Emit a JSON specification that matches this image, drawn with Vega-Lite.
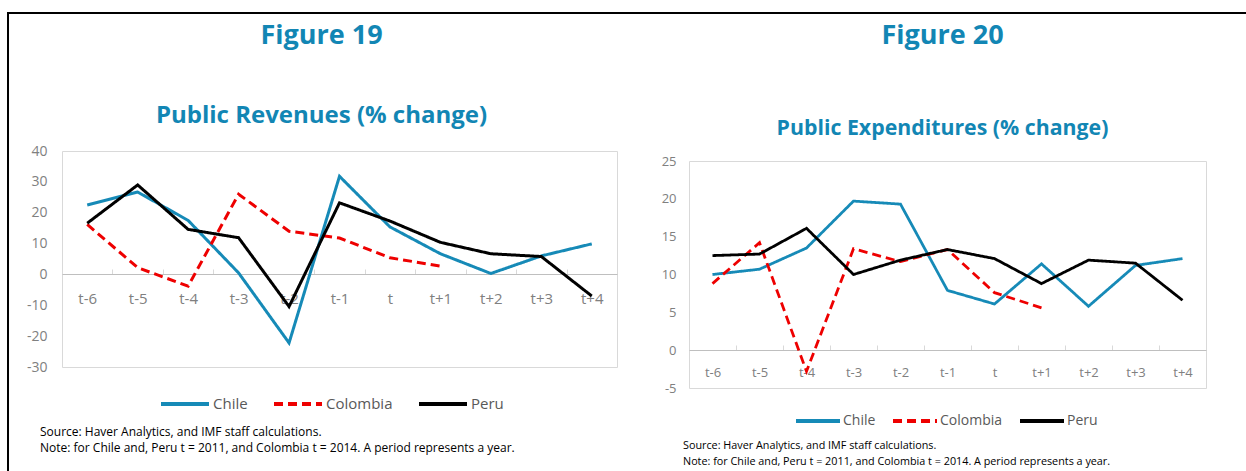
{
  "$schema": "https://vega.github.io/schema/vega-lite/v6.json",
  "background": "white",
  "padding": {"left": 7, "top": 6, "right": 0, "bottom": 0},
  "datasets": {
    "rev": [
      {"period": "t-6", "country": "Chile", "value": 22.5},
      {"period": "t-5", "country": "Chile", "value": 26.7},
      {"period": "t-4", "country": "Chile", "value": 17.5},
      {"period": "t-3", "country": "Chile", "value": 0.5},
      {"period": "t-2", "country": "Chile", "value": -22.2},
      {"period": "t-1", "country": "Chile", "value": 31.8},
      {"period": "t", "country": "Chile", "value": 15.4},
      {"period": "t+1", "country": "Chile", "value": 6.7},
      {"period": "t+2", "country": "Chile", "value": 0.3},
      {"period": "t+3", "country": "Chile", "value": 6.0},
      {"period": "t+4", "country": "Chile", "value": 9.9},
      {"period": "t-6", "country": "Colombia", "value": 16.2},
      {"period": "t-5", "country": "Colombia", "value": 2.2},
      {"period": "t-4", "country": "Colombia", "value": -3.8},
      {"period": "t-3", "country": "Colombia", "value": 26.0},
      {"period": "t-2", "country": "Colombia", "value": 14.0},
      {"period": "t-1", "country": "Colombia", "value": 11.8},
      {"period": "t", "country": "Colombia", "value": 5.4},
      {"period": "t+1", "country": "Colombia", "value": 2.7},
      {"period": "t-6", "country": "Peru", "value": 16.6},
      {"period": "t-5", "country": "Peru", "value": 29.0},
      {"period": "t-4", "country": "Peru", "value": 14.6},
      {"period": "t-3", "country": "Peru", "value": 11.9},
      {"period": "t-2", "country": "Peru", "value": -10.4},
      {"period": "t-1", "country": "Peru", "value": 23.2},
      {"period": "t", "country": "Peru", "value": 17.3},
      {"period": "t+1", "country": "Peru", "value": 10.4},
      {"period": "t+2", "country": "Peru", "value": 6.7},
      {"period": "t+3", "country": "Peru", "value": 5.8},
      {"period": "t+4", "country": "Peru", "value": -7.0}
    ],
    "exp": [
      {"period": "t-6", "country": "Chile", "value": 10.0},
      {"period": "t-5", "country": "Chile", "value": 10.7},
      {"period": "t-4", "country": "Chile", "value": 13.5},
      {"period": "t-3", "country": "Chile", "value": 19.7},
      {"period": "t-2", "country": "Chile", "value": 19.3},
      {"period": "t-1", "country": "Chile", "value": 7.9},
      {"period": "t", "country": "Chile", "value": 6.1},
      {"period": "t+1", "country": "Chile", "value": 11.4},
      {"period": "t+2", "country": "Chile", "value": 5.8},
      {"period": "t+3", "country": "Chile", "value": 11.2},
      {"period": "t+4", "country": "Chile", "value": 12.1},
      {"period": "t-6", "country": "Colombia", "value": 8.8},
      {"period": "t-5", "country": "Colombia", "value": 14.2},
      {"period": "t-4", "country": "Colombia", "value": -2.8},
      {"period": "t-3", "country": "Colombia", "value": 13.4},
      {"period": "t-2", "country": "Colombia", "value": 11.7},
      {"period": "t-1", "country": "Colombia", "value": 13.3},
      {"period": "t", "country": "Colombia", "value": 7.6},
      {"period": "t+1", "country": "Colombia", "value": 5.6},
      {"period": "t-6", "country": "Peru", "value": 12.5},
      {"period": "t-5", "country": "Peru", "value": 12.7},
      {"period": "t-4", "country": "Peru", "value": 16.1},
      {"period": "t-3", "country": "Peru", "value": 10.0},
      {"period": "t-2", "country": "Peru", "value": 11.9},
      {"period": "t-1", "country": "Peru", "value": 13.3},
      {"period": "t", "country": "Peru", "value": 12.1},
      {"period": "t+1", "country": "Peru", "value": 8.8},
      {"period": "t+2", "country": "Peru", "value": 11.9},
      {"period": "t+3", "country": "Peru", "value": 11.5},
      {"period": "t+4", "country": "Peru", "value": 6.6}
    ],
    "empty": []
  },
  "config": {
    "font": "Open Sans",
    "view": {"stroke": null}
  },
  "concat": [
    {
      "width": 0.01,
      "height": 458,
      "data": {"name": "empty"},
      "mark": "point",
      "view": {"stroke": "black", "strokeWidth": 2}
    },
    {
      "concat": [
        {
          "width": 1236,
          "height": 0.01,
          "data": {"name": "empty"},
          "mark": "point",
          "view": {"stroke": "black", "strokeWidth": 2}
        },
        {
          "concat": [
            {
              "width": 15,
              "height": 0.01,
              "data": {"name": "empty"},
              "mark": "point",
              "view": {"stroke": "transparent"}
            },
            {
              "concat": [
                {
                  "concat": [
                    {
                      "width": 300,
                      "height": 0.01,
                      "data": {"name": "empty"},
                      "mark": "point",
                      "view": {"stroke": "transparent"}
                    },
                    {
                      "width": 555,
                      "height": 216,
                      "view": {"stroke": "#d9d9d9"},
                      "title": {
                        "text": "Figure 19",
                        "subtitle": "Public Revenues (% change)",
                        "anchor": "middle",
                        "dx": -18,
                        "font": "Open Sans",
                        "subtitleFont": "Open Sans",
                        "fontSize": 27,
                        "subtitleFontSize": 24,
                        "fontWeight": "bold",
                        "subtitleFontWeight": "bold",
                        "color": "#1286b4",
                        "subtitleColor": "#1286b4",
                        "subtitlePadding": 54,
                        "offset": 15
                      },
                      "data": {"name": "rev"},
                      "mark": {"type": "line", "strokeWidth": 3},
                      "encoding": {
                        "x": {
                          "field": "period",
                          "type": "ordinal",
                          "sort": ["t-6", "t-5", "t-4", "t-3", "t-2", "t-1", "t", "t+1", "t+2", "t+3", "t+4"],
                          "bandPosition": 0.5,
                          "scale": {"type": "band", "paddingInner": 0, "paddingOuter": 0},
                          "axis": {
                            "title": null,
                            "offset": -93,
                            "domainColor": "#bfbfbf",
                            "domainWidth": 1,
                            "ticks": true,
                            "tickBand": "extent",
                            "tickSize": -5,
                            "tickColor": "#d9d9d9",
                            "labelAngle": 0,
                            "labelFontSize": 15,
                            "labelColor": "#808080",
                            "labelPadding": 22
                          }
                        },
                        "y": {
                          "field": "value",
                          "type": "quantitative",
                          "scale": {"domain": [-30, 40], "nice": false, "zero": false},
                          "axis": {
                            "title": null,
                            "values": [-30, -20, -10, 0, 10, 20, 30, 40],
                            "labelExpr": "'' + datum.value",
                            "grid": false,
                            "ticks": false,
                            "domain": false,
                            "labelFontSize": 14,
                            "labelColor": "#808080",
                            "labelPadding": 15
                          }
                        },
                        "color": {
                          "field": "country",
                          "type": "nominal",
                          "scale": {"domain": ["Chile", "Colombia", "Peru"], "range": ["#168ab7", "#ee0000", "#000000"]},
                          "legend": {
                            "title": null,
                            "orient": "none",
                            "legendX": 97,
                            "legendY": 227,
                            "direction": "horizontal",
                            "symbolType": "stroke",
                            "symbolSize": 2304,
                            "symbolStrokeWidth": 4,
                            "labelFontSize": 15,
                            "labelColor": "#595959",
                            "labelOffset": 2,
                            "columnPadding": 18,
                            "gridAlign": "none"
                          }
                        },
                        "strokeDash": {
                          "field": "country",
                          "type": "nominal",
                          "scale": {"domain": ["Chile", "Colombia", "Peru"], "range": [[1, 0], [9, 5], [1, 0]]},
                          "legend": {
                            "title": null,
                            "orient": "none",
                            "legendX": 97,
                            "legendY": 227,
                            "direction": "horizontal",
                            "symbolType": "stroke",
                            "symbolSize": 2304,
                            "symbolStrokeWidth": 4,
                            "labelFontSize": 15,
                            "labelColor": "#595959",
                            "labelOffset": 2,
                            "columnPadding": 18,
                            "gridAlign": "none"
                          }
                        }
                      }
                    },
                    {
                      "width": 480,
                      "height": 0.01,
                      "data": {"name": "empty"},
                      "mark": "point",
                      "title": {
                        "text": ["Source: Haver Analytics, and IMF staff calculations.", "Note: for Chile and, Peru t = 2011, and Colombia t = 2014. A period represents a year."],
                        "anchor": "start",
                        "dx": -22,
                        "font": "Open Sans",
                        "fontSize": 12,
                        "fontWeight": "normal",
                        "color": "#000000",
                        "lineHeight": 16,
                        "offset": 0
                      }
                    }
                  ],
                  "columns": 1,
                  "align": "each",
                  "spacing": 13,
                  "resolve": {
                    "scale": {"color": "independent", "strokeDash": "independent"},
                    "legend": {"color": "independent", "strokeDash": "independent"}
                  }
                },
                {
                  "concat": [
                    {
                      "width": 300,
                      "height": 3,
                      "data": {"name": "empty"},
                      "mark": "point",
                      "view": {"stroke": "transparent"}
                    },
                    {
                      "width": 517,
                      "height": 227,
                      "view": {"stroke": "#d9d9d9"},
                      "title": {
                        "text": "Figure 20",
                        "subtitle": "Public Expenditures (% change)",
                        "anchor": "middle",
                        "dx": -5,
                        "font": "Open Sans",
                        "subtitleFont": "Open Sans",
                        "fontSize": 27,
                        "subtitleFontSize": 21.3,
                        "fontWeight": "bold",
                        "subtitleFontWeight": "bold",
                        "color": "#1286b4",
                        "subtitleColor": "#1286b4",
                        "subtitlePadding": 68,
                        "offset": 15
                      },
                      "data": {"name": "exp"},
                      "mark": {"type": "line", "strokeWidth": 2.8},
                      "encoding": {
                        "x": {
                          "field": "period",
                          "type": "ordinal",
                          "sort": ["t-6", "t-5", "t-4", "t-3", "t-2", "t-1", "t", "t+1", "t+2", "t+3", "t+4"],
                          "bandPosition": 0.5,
                          "scale": {"type": "band", "paddingInner": 0, "paddingOuter": 0},
                          "axis": {
                            "title": null,
                            "offset": -38,
                            "domainColor": "#bfbfbf",
                            "domainWidth": 1,
                            "ticks": true,
                            "tickBand": "extent",
                            "tickSize": -5,
                            "tickColor": "#d9d9d9",
                            "labelAngle": 0,
                            "labelFontSize": 13,
                            "labelColor": "#808080",
                            "labelPadding": 21
                          }
                        },
                        "y": {
                          "field": "value",
                          "type": "quantitative",
                          "scale": {"domain": [-5, 25], "nice": false, "zero": false},
                          "axis": {
                            "title": null,
                            "values": [-5, 0, 5, 10, 15, 20, 25],
                            "labelExpr": "'' + datum.value",
                            "grid": false,
                            "ticks": false,
                            "domain": false,
                            "labelFontSize": 13,
                            "labelColor": "#808080",
                            "labelPadding": 13
                          }
                        },
                        "color": {
                          "field": "country",
                          "type": "nominal",
                          "scale": {"domain": ["Chile", "Colombia", "Peru"], "range": ["#168ab7", "#ee0000", "#000000"]},
                          "legend": {
                            "title": null,
                            "orient": "none",
                            "legendX": 105,
                            "legendY": 236,
                            "direction": "horizontal",
                            "symbolType": "stroke",
                            "symbolSize": 1936,
                            "symbolStrokeWidth": 4,
                            "labelFontSize": 14,
                            "labelColor": "#595959",
                            "labelOffset": 1,
                            "columnPadding": 9,
                            "gridAlign": "none"
                          }
                        },
                        "strokeDash": {
                          "field": "country",
                          "type": "nominal",
                          "scale": {"domain": ["Chile", "Colombia", "Peru"], "range": [[1, 0], [9, 5], [1, 0]]},
                          "legend": {
                            "title": null,
                            "orient": "none",
                            "legendX": 105,
                            "legendY": 236,
                            "direction": "horizontal",
                            "symbolType": "stroke",
                            "symbolSize": 1936,
                            "symbolStrokeWidth": 4,
                            "labelFontSize": 14,
                            "labelColor": "#595959",
                            "labelOffset": 1,
                            "columnPadding": 9,
                            "gridAlign": "none"
                          }
                        }
                      }
                    },
                    {
                      "width": 420,
                      "height": 0.01,
                      "data": {"name": "empty"},
                      "mark": "point",
                      "title": {
                        "text": ["Source: Haver Analytics, and IMF staff calculations.", "Note: for Chile and, Peru t = 2011, and Colombia t = 2014. A period represents a year."],
                        "anchor": "start",
                        "dx": -6,
                        "font": "Open Sans",
                        "fontSize": 10.8,
                        "fontWeight": "normal",
                        "color": "#000000",
                        "lineHeight": 16,
                        "offset": 0
                      }
                    }
                  ],
                  "columns": 1,
                  "align": "each",
                  "spacing": 10,
                  "resolve": {
                    "scale": {"color": "independent", "strokeDash": "independent"},
                    "legend": {"color": "independent", "strokeDash": "independent"}
                  }
                }
              ],
              "columns": 2,
              "align": "none",
              "spacing": 42,
              "resolve": {
                "scale": {"color": "independent", "strokeDash": "independent"},
                "legend": {"color": "independent", "strokeDash": "independent"}
              }
            }
          ],
          "columns": 2,
          "align": "none",
          "spacing": 0
        }
      ],
      "columns": 1,
      "align": "none",
      "spacing": -9
    }
  ],
  "columns": 2,
  "align": "none",
  "spacing": -2
}
